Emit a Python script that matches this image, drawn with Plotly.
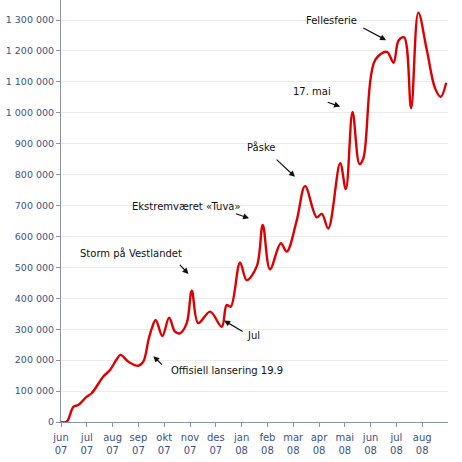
import plotly.graph_objects as go

# month index (0 = jun 07) and visitors
month_pos = [0.0, 0.22, 0.48, 0.67, 1.00, 1.19, 1.64, 1.90, 2.16, 2.31, 2.61, 3.00, 3.19,
             3.39, 3.52, 3.67, 3.93, 4.19, 4.42, 4.61, 4.87, 5.07, 5.32, 5.78, 6.23, 6.42,
             6.58, 6.94, 7.20, 7.59, 7.82, 8.10, 8.52, 8.75, 9.14, 9.46, 9.91, 10.11, 10.36,
             10.82, 11.04, 11.30, 11.57, 11.72, 12.18, 12.63, 12.89, 13.08, 13.30, 13.57,
             13.85, 14.18, 14.50, 14.72, 14.93]
visitors = [0, 1000, 49000, 55000, 82000, 93000, 147000, 168000, 203000, 217000, 195000,
            182000, 195000, 265000, 303000, 330000, 278000, 337000, 292000, 287000, 319000,
            425000, 320000, 357000, 308000, 378000, 373000, 515000, 459000, 504000, 637000,
            494000, 578000, 551000, 653000, 763000, 662000, 673000, 626000, 837000, 753000,
            1003000, 834000, 853000, 1171000, 1197000, 1162000, 1233000, 1244000, 1015000,
            1324000, 1203000, 1079000, 1052000, 1097000]

month_labels = ["jun<br>07", "jul<br>07", "aug<br>07", "sep<br>07", "okt<br>07", "nov<br>07",
                "des<br>07", "jan<br>08", "feb<br>08", "mar<br>08", "apr<br>08", "mai<br>08",
                "jun<br>08", "jul<br>08", "aug<br>08"]
y_ticks = [0, 100000, 200000, 300000, 400000, 500000, 600000, 700000, 800000, 900000,
           1000000, 1100000, 1200000, 1300000]
y_labels = ["0", "100 000", "200 000", "300 000", "400 000", "500 000", "600 000", "700 000",
            "800 000", "900 000", "1 000 000", "1 100 000", "1 200 000", "1 300 000"]

# events: text, text-anchor (month, value), arrow tail, arrow head
event_text = ["Offisiell lansering 19.9", "Jul", "Storm på Vestlandet", "Ekstremværet «Tuva»",
              "Påske", "17. mai", "Fellesferie"]
event_text_pos = [(4.19, 166000), (7.13, 281000), (0.66, 546000), (2.68, 696000),
                  (7.13, 889000), (8.92, 1070000), (9.42, 1300000)]
event_tail = [(3.97, 181000), (7.10, 290000), (4.55, 513000), (6.72, 675000),
              (8.30, 853000), (10.28, 1036000), (11.66, 1277000)]
event_head = [(3.58, 213000), (6.32, 328000), (4.94, 479000), (7.29, 659000),
              (9.07, 793000), (10.82, 1020000), (12.60, 1235000)]

fig = go.Figure()
fig.add_trace(go.Scatter(x=month_pos, y=visitors, mode="lines",
                         line=dict(color="#dc0000", width=2.4, shape="spline", smoothing=1.0),
                         hoverinfo="skip", showlegend=False))

ann = []
for t, tp, tl, hd in zip(event_text, event_text_pos, event_tail, event_head):
    ann.append(dict(x=tp[0], y=tp[1], text=t, showarrow=False, xanchor="left", yanchor="middle",
                    font=dict(family="DejaVu Sans", size=10, color="#111111")))
    ann.append(dict(x=hd[0], y=hd[1], ax=tl[0], ay=tl[1], axref="x", ayref="y", text="",
                    showarrow=True, arrowhead=2, arrowsize=1, arrowwidth=1.2,
                    arrowcolor="#111111", standoff=0))

fig.update_layout(
    width=462, height=462,
    margin=dict(l=61, r=14, t=0, b=40),
    paper_bgcolor="white", plot_bgcolor="white",
    annotations=ann,
    xaxis=dict(range=[0, 15], tickvals=list(range(15)), ticktext=month_labels,
               showgrid=False, zeroline=False, showline=True, linecolor="#8c93a3", linewidth=1,
               ticks="outside", ticklen=4, tickcolor="#8c93a3", ticklabelstandoff=2,
               tickfont=dict(family="DejaVu Sans", size=10, color="#3d5282")),
    yaxis=dict(range=[0, 1364800], tickvals=y_ticks, ticktext=y_labels,
               showgrid=True, gridcolor="#ececec", gridwidth=1, zeroline=False,
               showline=True, linecolor="#8c93a3", linewidth=1,
               ticks="outside", ticklen=4, tickcolor="#8c93a3",
               tickfont=dict(family="DejaVu Sans", size=9.5, color="#3d5282")),
)

fig.write_html("out.html")
